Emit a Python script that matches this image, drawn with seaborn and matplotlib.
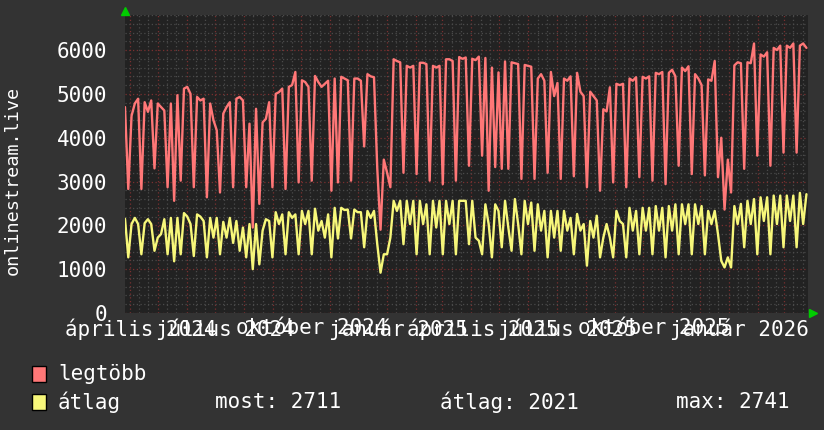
import numpy as np
import pandas as pd
import matplotlib
matplotlib.use("Agg")
import matplotlib.pyplot as plt
import matplotlib.dates as mdates
import matplotlib.transforms as mtransforms
from matplotlib.patches import Rectangle
import seaborn as sns

# ---------------- data ----------------
start_date = "2024-03-27"
sample_step = "84h"
x_end = "2026-03-26 16:00"

legtobb = [
    4700, 2830, 4500, 4780, 4890, 2830, 4810, 4590, 4850, 3300,
    4780, 4700, 4620, 2870, 4780, 2560, 4970, 3020, 5120, 5160,
    5000, 2870, 4930, 4850, 4890, 2640, 4780, 4400, 4170, 2750,
    4550, 4700, 4810, 2870, 4890, 4930, 4850, 2870, 4320, 1950,
    4660, 2490, 4350, 4430, 4810, 2870, 5000, 5040, 5120, 2830,
    5160, 5200, 5500, 2980, 5310, 5270, 5160, 3020, 5410, 5270,
    5160, 5230, 5300, 2790, 5350, 2980, 5390, 5350, 5310, 3020,
    5350, 5350, 5300, 3800, 5450, 5400, 5380, 3300, 1900, 3500,
    3200, 2870, 5790, 5750, 5720, 3200, 5640, 5600, 5640, 3170,
    5710, 5710, 5680, 3020, 5640, 5600, 5640, 2940, 5790, 5790,
    5750, 3020, 5840, 5800, 5830, 3360, 5800, 5770, 5850, 3590,
    5820, 2790, 5600, 3330, 5490, 3290, 5740, 3290, 5720, 5700,
    5680, 3060, 5660, 5640, 5620, 3060, 5350, 5450, 5300, 3200,
    5500, 4950, 5250, 3060, 5350, 5300, 5400, 3120, 5480, 5050,
    4950, 2870, 5050, 4950, 4850, 2790, 4650, 4600, 5150, 2980,
    5230, 5200, 5230, 2870, 5350, 5300, 5380, 3100, 5390, 5350,
    5400, 3020, 5480, 5450, 5500, 2940, 5480, 5550, 5400, 3360,
    5600, 5520, 5630, 3170, 5450, 5350, 5200, 3140, 5330, 5300,
    5750, 3100, 4000, 2360, 3500, 2750, 5650, 5720, 5700, 3290,
    5720, 5700, 6150, 3590, 5900, 5850, 5950, 3360, 6050, 6000,
    6100, 3660, 6100, 6050, 6150, 3660, 6100, 6150, 6050,
]

atlag = [
    2150, 1270, 2030, 2170, 2030, 1340, 2050, 2140, 2030, 1420,
    1720, 1800, 2140, 1340, 2170, 1180, 2170, 1340, 2280, 2200,
    2030, 1300, 2250, 2200, 2100, 1270, 2170, 1720, 2170, 1340,
    2080, 1720, 2170, 1600, 2100, 1420, 1950, 1270, 2030, 1000,
    2030, 1110, 1880, 2140, 2100, 1270, 2300, 2030, 2250, 1340,
    2300, 2170, 2250, 1340, 2330, 2030, 2330, 1340, 2380, 1880,
    2100, 1720, 2250, 1270, 2400, 1700, 2400, 2350, 2360, 1700,
    2360, 2300, 2300, 1500, 2330, 2170, 2330, 1570, 920, 1340,
    1340, 1720, 2560, 2330, 2560, 1570, 2560, 2030, 2560, 1340,
    2560, 2030, 2480, 1340, 2560, 1950, 2560, 1340, 2560, 2030,
    2560, 1340, 2560, 2560, 2560, 1570, 2560, 1720, 1650, 1340,
    2480, 2030, 1270, 2480, 2330, 1500, 2560, 1950, 1420, 2600,
    2030, 1340, 2560, 2030, 2520, 1420, 2480, 1880, 2330, 1270,
    2330, 1720, 2330, 1420, 2330, 1880, 2170, 1340, 2260, 1880,
    2030, 1080, 2100, 1720, 2220, 1270, 1720, 2030, 1720, 1270,
    2330, 2100, 2030, 1270, 2400, 1880, 2330, 1340, 2400, 1880,
    2400, 1340, 2440, 1880, 2400, 1270, 2440, 1880, 2480, 1340,
    2480, 2030, 2480, 1340, 2480, 2030, 2440, 1340, 2330, 2030,
    2330, 1800, 1190, 1040, 1270, 1040, 2440, 2030, 2490, 1500,
    2560, 2030, 2600, 1340, 2640, 2100, 2640, 1340, 2680, 2030,
    2680, 1500, 2680, 2100, 2680, 1500, 2741, 2030, 2711,
]

tick_dates = ["2024-04-01", "2024-07-01", "2024-10-01", "2025-01-01",
              "2025-04-01", "2025-07-01", "2025-10-01", "2026-01-01"]
tick_labels = ["április 2024", "július 2024", "október 2024", "január 2025",
               "április 2025", "július 2025", "október 2025", "január 2026"]
y_ticks = [0, 1000, 2000, 3000, 4000, 5000, 6000]
y_max = 6800
y_title = "onlinestream.live"
series_names = ["legtöbb", "átlag"]
stat_texts = ["most: 2711", "átlag: 2021", "max: 2741"]

# ---------------- style ----------------
RED = "#ff7777"
YEL = "#f7f77a"
FIG_BG = "#333333"
AX_BG = "#222222"
MINOR_GRID = "#4a4a4a"
MAJOR_GRID = "#7a3030"

sns.set_theme(style="dark")
plt.rcParams["font.family"] = ["DejaVu Sans Mono", "DejaVu Sans"]
FS = 15

W, H = 824, 430
fig = plt.figure(figsize=(W / 100, H / 100), dpi=100, facecolor=FIG_BG)
ax = fig.add_axes([125 / W, 1 - 313 / H, 683 / W, 298 / H])
ax.set_facecolor(AX_BG)
for s in ax.spines.values():
    s.set_visible(False)

dates = pd.date_range(start_date, periods=len(legtobb), freq=sample_step)
df = pd.DataFrame({"date": dates, series_names[0]: legtobb, series_names[1]: atlag})

x0 = pd.Timestamp(start_date)
x1 = pd.Timestamp(x_end)
ax.set_xlim(x0, x1)
ax.set_ylim(0, y_max)

# grid
ax.set_yticks(y_ticks)
ax.yaxis.set_minor_locator(matplotlib.ticker.MultipleLocator(200))
ax.xaxis.set_major_locator(mdates.MonthLocator())
ax.xaxis.set_minor_locator(mdates.DayLocator(bymonthday=[11, 21]))
ax.grid(which="minor", color=MINOR_GRID, ls=(0, (1, 2)), lw=0.9)
ax.grid(which="major", axis="x", color=MAJOR_GRID, ls=(0, (1, 2)), lw=0.9)
ax.grid(which="major", axis="y", color=MAJOR_GRID, ls=(0, (1, 2)), lw=0.9)
ax.set_axisbelow(True)

sns.lineplot(data=df, x="date", y=series_names[0], color=RED, lw=1.7,
             ax=ax, estimator=None, sort=False)
sns.lineplot(data=df, x="date", y=series_names[1], color=YEL, lw=1.7,
             ax=ax, estimator=None, sort=False)
ax.set_xlabel("")
ax.set_ylabel("")

ax.tick_params(axis="both", which="both", length=0)
ax.tick_params(axis="y", labelsize=FS, labelcolor="white", pad=13)
ax.set_xticklabels([])

# x labels (centered a bit right of the month tick, like rrdtool)
off = mtransforms.ScaledTranslation(11 / 100, -5 / 100, fig.dpi_scale_trans)
trans = mtransforms.blended_transform_factory(ax.transData, ax.transAxes) + off
for d, lab in zip(tick_dates, tick_labels):
    ax.text(mdates.date2num(pd.Timestamp(d)), 0, lab, transform=trans,
            ha="center", va="top", fontsize=FS, color="white")

# arrows
ax.plot([0], [1.0134], marker="^", color="#00cc00", ms=6, transform=ax.transAxes, clip_on=False)
ax.plot([1.0073], [0], marker=">", color="#00cc00", ms=6, transform=ax.transAxes, clip_on=False)

# y title
fig.text(13 / W, 1 - 180 / H, y_title, rotation=90, ha="center", va="center",
         fontsize=13.3, color="white")

# legend
for k, (name, col) in enumerate(zip(series_names, [RED, YEL])):
    yc = 374 + 28 * k
    fig.patches.append(Rectangle((32 / W, 1 - (yc + 8) / H), 14 / W, 16 / H,
                                 transform=fig.transFigure, facecolor=col,
                                 edgecolor="black", lw=1))
    fig.text(58 / W, 1 - yc / H, name, ha="left", va="center", fontsize=FS, color="white")
for xs, t in zip([215, 440, 676], stat_texts):
    fig.text(xs / W, 1 - 402 / H, t, ha="left", va="center", fontsize=FS, color="white")

fig.savefig("out.png", dpi=100, facecolor=FIG_BG)
